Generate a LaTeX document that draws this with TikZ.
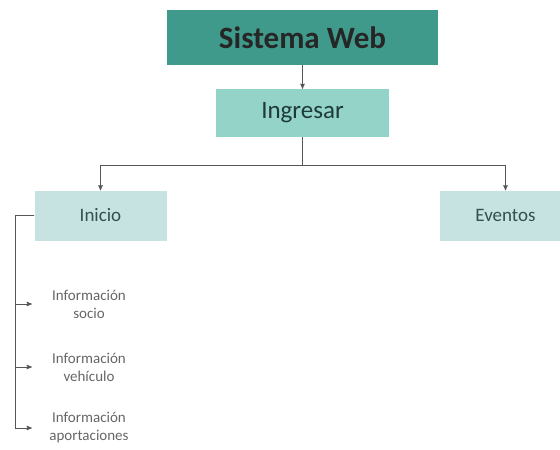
\documentclass[tikz,border=0pt]{standalone}
\usepackage{fontspec}
\setmainfont{Carlito}
\usepackage{xcolor}
\usetikzlibrary{arrows,positioning}

\definecolor{tealdark}{HTML}{3F9A8B}
\definecolor{teallight}{HTML}{93D3C8}
\definecolor{tealpale}{HTML}{C6E3E2}
\definecolor{inkdark}{HTML}{1E3A3A}
\definecolor{linegray}{HTML}{555555}

\begin{document}
\begin{tikzpicture}[x=1pt,y=-1pt,>=stealth',auto]
  \tikzstyle{titlebox}=[rectangle,fill=tealdark,text=black!85,minimum width=271pt,minimum height=55pt,font=\fontsize{31}{37}\selectfont\bfseries]
  \tikzstyle{stepbox}=[rectangle,fill=teallight,text=inkdark,minimum width=173pt,minimum height=48pt,font=\fontsize{25}{30}\selectfont]
  \tikzstyle{menubox}=[rectangle,fill=tealpale,text=inkdark!90,minimum width=132pt,minimum height=50pt,font=\fontsize{19}{23}\selectfont]
  \tikzstyle{item}=[align=center,text=black!60,minimum width=114pt,font=\fontsize{15}{18}\selectfont]
  \tikzstyle{link}=[draw=linegray,line width=0.9pt]

  \useasboundingbox (0,0) rectangle (560,450);

  % Boxes
  \node [titlebox] (web) at (302.5,37.5) {Sistema Web};
  \node [stepbox] (ingresar) at (302.5,113) {Ingresar};
  \node [menubox] (inicio) at (100.5,215.5) {Inicio};
  \node [menubox] (eventos) at (505.5,215.5) {Eventos};

  % Items
  \node [item] (socio) at (89,304) {Información\\socio};
  \node [item] (vehiculo) at (89,367) {Información\\vehículo};
  \node [item] (aportes) at (89,428) {Información\\aportaciones};

  % Arcs
  \coordinate (split) at (302.5,165);
  \draw [link,->] (web) -- (ingresar);
  \draw [link] (ingresar) -- (split);
  \draw [link,->] (split) -| (inicio);
  \draw [link,->] (split) -| (eventos);
  \draw [link,->] (inicio.west) -- ++(-19,0) |- (socio.west);
  \draw [link,->] (inicio.west) -- ++(-19,0) |- (vehiculo.west);
  \draw [link,->] (inicio.west) -- ++(-19,0) |- (aportes.west);
\end{tikzpicture}
\end{document}
